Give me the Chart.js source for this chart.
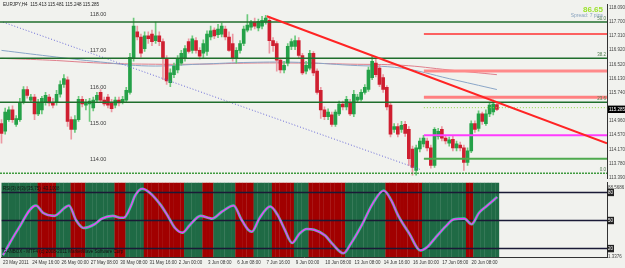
<!DOCTYPE html>
<html>
<head>
<meta charset="utf-8">
<script src="https://cdn.jsdelivr.net/npm/chart.js@4.4.1/dist/chart.umd.min.js"></script>
<style>
  html, body { margin: 0; padding: 0; background: #f1f2ee; }
  #wrap { position: relative; width: 625px; height: 268px; overflow: hidden; }
  #lower { position: absolute; left: 0; top: 179px; }
  #main { position: absolute; left: 0; top: 0; }
</style>
</head>
<body>
<div id="wrap">
  <canvas id="lower" width="625" height="89"></canvas>
  <canvas id="main" width="625" height="185"></canvas>
</div>
<script>
// EURJPY H4 candles, bar 0 = 23 May 2011
const open = [114.89,114.68,115.00,115.27,114.87,115.00,115.48,115.83,115.54,115.62,
  115.16,115.27,115.48,115.62,115.48,115.48,115.70,115.97,116.10,115.00,
  114.73,115.00,115.56,115.40,115.43,115.32,115.54,115.75,115.54,115.62,
  115.48,115.40,115.54,115.48,115.54,115.75,116.69,117.42,117.28,116.96,
  117.31,117.36,117.18,117.31,117.15,116.69,116.02,116.24,116.37,116.56,
  116.69,117.15,116.91,117.18,116.91,116.83,116.88,117.28,117.47,117.34,
  117.36,117.50,117.28,117.10,116.69,116.91,117.10,117.47,117.55,117.69,
  117.53,117.58,117.69,117.74,117.18,117.10,116.64,116.37,116.56,117.02,
  117.02,117.18,116.77,116.34,116.42,116.83,116.34,115.81,115.27,115.08,
  115.13,114.87,115.16,115.43,115.35,115.48,115.16,115.54,115.56,115.75,
  115.83,116.16,116.56,116.42,116.16,115.89,115.40,114.73,114.81,114.73,
  114.87,114.73,114.19,113.60,114.19,114.33,114.41,114.22,113.74,114.54,
  114.73,114.49,114.35,114.46,114.22,114.30,114.22,113.82,114.14,114.89,
  114.76,115.16,114.89,115.16,115.21,115.413];
const high = [115.00,115.32,115.35,115.38,115.11,115.59,115.91,115.91,115.70,115.70,
  115.56,115.64,115.75,115.70,115.59,115.81,116.07,116.24,116.18,115.08,
  115.11,115.64,115.64,115.56,115.59,115.62,115.75,115.83,115.62,115.70,
  115.56,115.62,115.62,115.64,115.89,116.83,117.80,117.58,117.36,117.42,
  117.42,117.47,117.69,117.42,117.23,116.77,116.40,116.56,116.77,116.91,
  117.04,117.23,117.31,117.26,116.99,117.20,117.45,117.58,117.53,117.63,
  117.66,117.58,117.42,117.36,116.99,117.18,117.58,117.90,117.74,117.80,
  117.77,117.85,117.88,117.85,117.26,117.15,116.69,116.61,117.10,117.23,
  117.31,117.26,116.83,116.61,116.91,116.88,116.40,115.89,115.35,115.30,
  115.21,115.27,115.51,115.51,115.64,115.56,115.81,115.70,115.83,115.97,
  116.45,116.75,116.67,116.50,116.24,115.94,115.48,114.89,114.89,114.95,
  114.95,114.81,114.27,114.30,114.49,114.57,114.49,114.30,114.78,114.76,
  114.81,114.57,114.52,114.54,114.41,114.38,114.30,114.22,114.97,114.97,
  115.24,115.21,115.27,115.48,115.54,115.481];
const low = [114.35,114.60,114.95,114.92,114.81,114.95,115.43,115.59,115.48,115.00,
  115.11,115.16,115.40,115.38,115.32,115.40,115.62,115.89,114.81,114.46,
  114.65,114.95,115.35,115.27,114.95,115.24,115.48,115.48,115.38,115.32,
  115.21,115.32,115.38,115.43,115.48,115.70,116.61,117.20,116.72,116.88,
  117.10,117.04,117.10,117.04,116.10,115.97,115.91,116.16,116.29,116.50,
  116.61,116.83,116.83,116.83,116.67,116.69,116.77,117.20,117.23,117.26,
  117.28,117.20,116.88,116.61,116.56,116.83,117.04,117.42,117.47,117.50,
  117.45,117.50,117.63,116.83,116.88,116.34,116.29,116.29,116.48,116.93,
  116.93,116.69,116.24,116.26,116.37,116.21,115.70,115.03,115.00,115.00,
  114.81,114.81,115.11,115.27,115.27,115.11,115.08,115.48,115.51,115.70,
  115.78,116.10,116.18,115.91,115.75,115.27,114.52,114.65,114.52,114.65,
  114.54,113.74,113.47,113.47,114.11,114.25,114.14,113.66,113.68,114.46,
  114.41,114.33,114.27,114.14,114.14,114.14,113.60,113.74,114.09,114.65,
  114.68,114.87,114.84,115.08,115.13,115.248];
const close = [114.62,115.21,115.27,115.00,115.03,115.48,115.83,115.67,115.62,115.16,
  115.48,115.59,115.67,115.46,115.40,115.70,115.97,116.13,114.95,114.73,
  115.00,115.56,115.43,115.48,115.51,115.54,115.67,115.54,115.43,115.40,
  115.30,115.54,115.46,115.56,115.81,116.72,117.58,117.28,116.83,117.31,
  117.23,117.15,117.31,117.15,116.69,116.07,116.29,116.48,116.69,116.83,
  116.96,116.88,117.23,116.91,116.75,117.10,117.36,117.45,117.31,117.50,
  117.58,117.28,116.91,116.69,116.91,117.10,117.50,117.61,117.69,117.58,
  117.71,117.74,117.80,117.18,117.04,116.64,116.37,116.50,117.02,117.15,
  117.18,116.77,116.29,116.50,116.83,116.29,115.75,115.27,115.08,115.21,
  114.87,115.21,115.43,115.35,115.56,115.16,115.70,115.62,115.75,115.89,
  116.37,116.61,116.24,115.97,115.83,115.35,114.60,114.81,114.60,114.84,
  114.62,113.92,113.68,114.22,114.41,114.49,114.22,113.74,114.73,114.68,
  114.49,114.41,114.44,114.22,114.33,114.22,113.82,114.14,114.89,114.73,
  115.16,114.95,115.16,115.40,115.43,115.285];

// moving averages, read at a few bars
const maBars = [0, 13, 27, 40, 54, 68, 81, 95, 109, 122, 135];
const maFast = [116.91, 116.75, 116.59, 116.48, 116.53, 116.58, 116.58, 116.50, 116.42, 116.13, 115.83];
const maSlow = [116.69, 116.64, 116.56, 116.53, 116.53, 116.56, 116.56, 116.53, 116.50, 116.37, 116.24];

// chart objects
const fibLevels = [117.69, 116.69, 115.48, 113.52];
const fibNames = ['50.0', '38.2', '23.6', '0.0'];
const zoneStartBar = 115.1;
const zoneLevels = [117.36, 116.34, 115.62, 114.57, 113.92];
const askPrice = 115.33;
const bidPrice = 115.285;
const redTrend = [[72.3, 117.85], [165, 114.35]];
const blueTrend = [[0.4, 117.69], [114, 113.63]];
const roundLevels = [118, 117, 116, 115, 114];
const priceTicks = [118.09, 117.70, 117.31, 116.92, 116.52, 116.13, 115.74, 114.96, 114.57, 114.17, 113.78, 113.39];

// lower window: oscillator points and slope blocks
const oscPoints = [[0,13],[4,40],[9,66],[11,58],[14,55],[17,64],[18,66],[20,50],[22,42],[25,46],[27,52],[30,55],
  [32,53],[33,53],[35,66],[36,76],[38,84],[40,80],[43,67],[45,55],[47,42],[49,37],[51,45],[54,55],[56,53],
  [57,52],[60,60],[63,66],[65,52],[67,40],[68,38],[70,52],[73,65],[75,56],[77,40],[79,26],[81,36],[83,41],
  [85,40],[88,34],[90,25],[93,15],[95,25],[98,45],[101,68],[104,82],[106,72],[108,55],[111,36],[114,18],
  [116,22],[118,31],[121,44],[123,51],[126,52],[128,46],[130,58],[132,65],[135,75]];
const blockRuns = [['up',10],['dn',5],['up',4],['dn',4],['up',8],['dn',3],['up',5],['dn',11],['up',5],['dn',3],
  ['up',6],['dn',5],['up',5],['dn',6],['up',4],['dn',10],['up',11],['dn',10],['up',12],['dn',2],['up',7]];
const oscLevels = [80, 50, 20];
const oscAxisMarks = [85.3, 11.6];
const oscAxisNames = ['88.5686', '1.3376'];

const dateTickBars = [0, 8, 16, 24, 32, 40, 48, 56, 64, 72, 80, 88, 96, 104, 112, 120, 128];
const dateLabels = ['23 May 2011','24 May 16:00','26 May 00:00','27 May 08:00','30 May 08:00','31 May 16:00',
  '2 Jun 00:00','3 Jun 08:00','6 Jun 08:00','7 Jun 16:00','9 Jun 00:00','10 Jun 08:00','13 Jun 08:00',
  '14 Jun 16:00','16 Jun 00:00','17 Jun 08:00','20 Jun 08:00'];

const X_MIN = -0.41, X_MAX = 165;
const FONT = 'Liberation Sans';
const PANE_BG = '#f1f2ee';

function line(points, color, width, extra) {
  return Object.assign({
    type: 'line',
    data: points.map(p => ({x: p[0], y: p[1]})),
    borderColor: color,
    borderWidth: width,
    pointRadius: 0,
    fill: false,
    clip: 0
  }, extra || {});
}

const paneBg = {
  id: 'paneBg',
  beforeDraw(chart) {
    const a = chart.chartArea, ctx = chart.ctx;
    ctx.save();
    ctx.fillStyle = PANE_BG;
    ctx.fillRect(a.left, a.top, a.right - a.left, a.bottom - a.top);
    ctx.restore();
  }
};

// ---------- main price window ----------
const mainSets = [];
mainSets.push(line(redTrend, '#ff2424', 2, {order: 1}));
fibLevels.forEach((v, k) => {
  const last = k === fibLevels.length - 1;
  mainSets.push(line([[X_MIN, v], [X_MAX, v]], last ? '#3f9a3f' : '#1f6e2c', 1.5,
    {order: 2, borderDash: last ? [2, 1] : []}));
});
const zoneColors = ['#ff3030', '#ff8a8a', '#ff8080', '#ff3cff', '#4eaa4e'];
const zoneWidths = [1.5, 3, 3, 2, 2];
zoneLevels.forEach((v, k) => {
  mainSets.push(line([[zoneStartBar, v], [X_MAX, v]], zoneColors[k], zoneWidths[k], {order: 2}));
});
mainSets.push(line([[zoneStartBar, askPrice], [X_MAX, askPrice]], '#8fd94a', 1, {order: 2, borderDash: [1, 2]}));
mainSets.push(line(blueTrend, '#6a6ad8', 1, {order: 3, borderDash: [1, 2]}));
mainSets.push({
  type: 'bar', order: 4, grouped: false, barThickness: 3, minBarLength: 1, clip: 0,
  data: open.map((o, i) => ({x: i, y: [o, close[i]]})),
  backgroundColor: c => close[c.dataIndex] >= open[c.dataIndex] ? '#24a148' : '#cf1f30'
});
mainSets.push({
  type: 'bar', order: 5, grouped: false, barThickness: 1, clip: 0,
  data: open.map((o, i) => ({x: i, y: [low[i], high[i]]})),
  backgroundColor: c => close[c.dataIndex] >= open[c.dataIndex] ? '#6cc97c' : '#eb98a2'
});
mainSets.push(line(maBars.map((b, k) => [b, maFast[k]]), '#8aa6c8', 1, {order: 6, tension: 0.4}));
mainSets.push(line(maBars.map((b, k) => [b, maSlow[k]]), '#e07f8c', 1, {order: 6, tension: 0.4}));

const mainText = {
  id: 'mainText',
  afterDraw(chart) {
    const ctx = chart.ctx, ys = chart.scales.y, a = chart.chartArea;
    ctx.save();
    ctx.font = '4.6px ' + FONT;
    ctx.fillStyle = '#222';
    ctx.textBaseline = 'middle';
    ctx.fillText('EURJPY,H4  ' + [open, high, low, close].map(s => s[s.length - 1].toFixed(3)).join(' '), 3, 5);
    ctx.font = '5.5px ' + FONT;
    ctx.fillStyle = '#3c3c3c';
    ctx.textBaseline = 'top';
    roundLevels.forEach(v => ctx.fillText(v.toFixed(2), 90, ys.getPixelForValue(v) + 1));
    ctx.textAlign = 'right';
    ctx.textBaseline = 'bottom';
    ctx.font = '4.5px ' + FONT;
    ctx.fillStyle = '#4d7a4d';
    fibLevels.forEach((v, k) => ctx.fillText(fibNames[k], a.right - 1, ys.getPixelForValue(v) - 1));
    ctx.textBaseline = 'middle';
    ctx.font = 'bold 8px ' + FONT;
    ctx.fillStyle = '#9be22b';
    ctx.fillText('86.65', 603, 9.5);
    ctx.font = '5px ' + FONT;
    ctx.fillStyle = '#8aa4bf';
    ctx.fillText('Spread: 7 pips', 603, 16);
    ctx.restore();
  }
};

new Chart(document.getElementById('main'), {
  type: 'bar',
  data: {datasets: mainSets},
  options: {
    responsive: false, animation: false, events: [],
    layout: {padding: {top: 0, bottom: 7, left: 0, right: 0}},
    plugins: {legend: {display: false}, tooltip: {enabled: false}},
    scales: {
      x: {type: 'linear', min: X_MIN, max: X_MAX, offset: false, display: false},
      y: {
        type: 'linear', position: 'right', min: 113.39, max: 118.17,
        grid: {display: false, drawTicks: false},
        border: {display: true, color: '#333', width: 1},
        afterFit: s => { s.width = 18; },
        afterBuildTicks: s => { s.ticks = priceTicks.concat([bidPrice]).map(v => ({value: v})); },
        ticks: {
          padding: 2,
          font: {size: 4.5, family: FONT},
          color: c => c.tick && c.tick.value === bidPrice ? '#fff' : '#444',
          showLabelBackdrop: c => !!(c.tick && c.tick.value === bidPrice),
          backdropColor: '#000',
          backdropPadding: {top: 1, bottom: 1, left: 1, right: 4},
          callback: v => v.toFixed(3)
        }
      }
    }
  },
  plugins: [paneBg, mainText]
});

// ---------- lower oscillator window ----------
const blockState = [];
blockRuns.forEach(r => { for (let n = 0; n < r[1]; n++) blockState.push(r[0]); });

const lowerSets = [];
lowerSets.push(line(oscPoints, '#ff2dff', 1.2, {order: 1, tension: 0.4, cubicInterpolationMode: 'monotone'}));
lowerSets.push(line(oscPoints, '#3fd0a0', 2.6, {order: 2, tension: 0.4, cubicInterpolationMode: 'monotone'}));
oscLevels.forEach(v => lowerSets.push(line([[X_MIN, v], [X_MAX, v]], '#1a1a36', 1.5, {order: 3})));
lowerSets.push({
  type: 'bar', order: 4, grouped: false, barPercentage: 1.08, categoryPercentage: 1, clip: 0,
  data: blockState.map((s, i) => ({x: i, y: [0, 100]})),
  backgroundColor: c => blockState[c.dataIndex] === 'up' ? '#1f6a45' : '#a10000'
});

const lowerText = {
  id: 'lowerText',
  afterDraw(chart) {
    const ctx = chart.ctx, a = chart.chartArea;
    ctx.save();
    ctx.font = '4.5px ' + FONT;
    ctx.fillStyle = '#111';
    ctx.textBaseline = 'middle';
    ctx.fillText('RSI(3) 8(3)/(35,75)  43.1008', 3, a.top + 6);
    ctx.fillText('GANBOX - MTF4 (c) 2008-2011 MarketWave Software Corp', 3, a.bottom - 5);
    ctx.restore();
  }
};

const allOscTicks = oscLevels.concat(oscAxisMarks);
new Chart(document.getElementById('lower'), {
  type: 'bar',
  data: {datasets: lowerSets},
  options: {
    responsive: false, animation: false, events: [],
    layout: {padding: 0},
    plugins: {legend: {display: false}, tooltip: {enabled: false}},
    scales: {
      x: {
        type: 'linear', min: X_MIN, max: X_MAX, offset: false,
        grid: {display: false, drawTicks: false},
        border: {display: true, color: '#333', width: 1},
        afterFit: s => { s.height = 11; },
        afterBuildTicks: s => { s.ticks = dateTickBars.map(v => ({value: v})); },
        ticks: {
          align: 'start', maxRotation: 0, autoSkip: false, padding: 3,
          font: {size: 4.5, family: FONT}, color: '#333',
          callback: (v, i) => dateLabels[i]
        }
      },
      y: {
        type: 'linear', position: 'right', min: 11, max: 90.4,
        grid: {display: false, drawTicks: false},
        border: {display: true, color: '#333', width: 1},
        afterFit: s => { s.width = 18; },
        afterBuildTicks: s => { s.ticks = allOscTicks.map(v => ({value: v})); },
        ticks: {
          padding: 1,
          font: {size: 4.5, family: FONT},
          color: c => oscLevels.includes(c.tick && c.tick.value) ? '#fff' : '#444',
          showLabelBackdrop: c => oscLevels.includes(c.tick && c.tick.value),
          backdropColor: '#222',
          backdropPadding: 1,
          callback: v => {
            const k = oscAxisMarks.indexOf(v);
            return k >= 0 ? oscAxisNames[k] : String(v);
          }
        }
      }
    }
  },
  plugins: [paneBg, lowerText]
});
</script>
</body>
</html>
